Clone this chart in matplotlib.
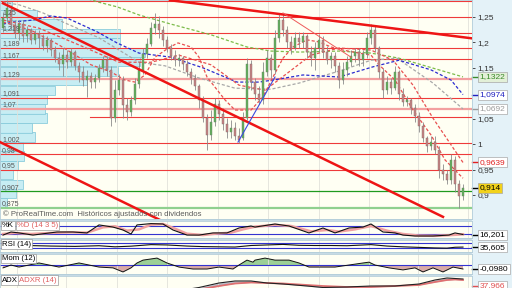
import matplotlib
matplotlib.use('Agg')
import matplotlib.pyplot as plt
from matplotlib.patches import Rectangle
import numpy as np

plt.rcParams['font.family'] = ['Liberation Sans', 'DejaVu Sans']

# velas diarias, sesiones 0..115
opens = [1.228, 1.248, 1.264, 1.234, 1.219, 1.236, 1.213, 1.224, 1.205, 1.217,
         1.209, 1.193, 1.205, 1.185, 1.169, 1.158, 1.175, 1.161, 1.181, 1.154,
         1.142, 1.126, 1.134, 1.122, 1.130, 1.150, 1.165, 1.146, 1.051, 1.106,
         1.126, 1.077, 1.063, 1.087, 1.118, 1.146, 1.177, 1.197, 1.228, 1.236,
         1.224, 1.205, 1.189, 1.173, 1.165, 1.169, 1.158, 1.142, 1.130, 1.114,
         1.087, 1.051, 1.018, 1.043, 1.079, 1.059, 1.040, 1.024, 1.032, 1.016,
         1.012, 1.051, 1.158, 1.122, 1.099, 1.087, 1.142, 1.169, 1.146, 1.209,
         1.244, 1.224, 1.201, 1.189, 1.209, 1.201, 1.213, 1.181, 1.169, 1.189,
         1.205, 1.181, 1.165, 1.173, 1.154, 1.126, 1.146, 1.161, 1.173, 1.181,
         1.165, 1.177, 1.209, 1.224, 1.189, 1.142, 1.106, 1.122, 1.110, 1.142,
         1.099, 1.083, 1.087, 1.071, 1.055, 1.036, 1.012, 0.996, 1.004, 0.988,
         0.949, 0.941, 0.930, 0.969, 0.922, 0.898]
highs = [1.260, 1.283, 1.274, 1.244, 1.244, 1.244, 1.232, 1.228, 1.224, 1.224,
         1.217, 1.213, 1.209, 1.193, 1.181, 1.189, 1.185, 1.189, 1.185, 1.161,
         1.154, 1.146, 1.142, 1.138, 1.158, 1.173, 1.173, 1.154, 1.126, 1.138,
         1.134, 1.091, 1.095, 1.130, 1.161, 1.189, 1.209, 1.240, 1.258, 1.252,
         1.232, 1.213, 1.197, 1.185, 1.177, 1.173, 1.165, 1.150, 1.138, 1.118,
         1.095, 1.059, 1.067, 1.091, 1.087, 1.071, 1.051, 1.047, 1.043, 1.032,
         1.063, 1.169, 1.165, 1.130, 1.114, 1.161, 1.185, 1.177, 1.224, 1.258,
         1.256, 1.232, 1.213, 1.221, 1.221, 1.221, 1.217, 1.193, 1.201, 1.217,
         1.213, 1.193, 1.181, 1.181, 1.161, 1.161, 1.173, 1.185, 1.189, 1.189,
         1.185, 1.221, 1.236, 1.232, 1.193, 1.150, 1.134, 1.130, 1.154, 1.146,
         1.110, 1.095, 1.091, 1.079, 1.063, 1.043, 1.016, 1.016, 1.016, 0.996,
         0.961, 0.949, 0.981, 0.977, 0.930, 0.922]
lows = [1.221, 1.240, 1.224, 1.209, 1.205, 1.201, 1.201, 1.197, 1.197, 1.189,
        1.185, 1.181, 1.173, 1.161, 1.146, 1.134, 1.150, 1.154, 1.146, 1.122,
        1.114, 1.093, 1.110, 1.110, 1.122, 1.142, 1.134, 1.036, 1.043, 1.097,
        1.051, 1.047, 1.055, 1.079, 1.110, 1.138, 1.169, 1.193, 1.217, 1.209,
        1.193, 1.181, 1.165, 1.154, 1.154, 1.146, 1.134, 1.118, 1.106, 1.071,
        1.043, 0.988, 1.008, 1.036, 1.047, 1.028, 1.012, 1.012, 1.008, 1.002,
        1.008, 1.047, 1.106, 1.087, 1.079, 1.079, 1.134, 1.130, 1.138, 1.201,
        1.213, 1.189, 1.177, 1.185, 1.189, 1.189, 1.169, 1.154, 1.146, 1.181,
        1.169, 1.158, 1.150, 1.142, 1.110, 1.118, 1.134, 1.154, 1.161, 1.154,
        1.154, 1.169, 1.197, 1.181, 1.130, 1.091, 1.099, 1.099, 1.106, 1.087,
        1.075, 1.075, 1.059, 1.043, 1.024, 1.004, 0.985, 0.988, 0.981, 0.933,
        0.930, 0.922, 0.922, 0.906, 0.874, 0.890]
closes = [1.248, 1.268, 1.234, 1.219, 1.236, 1.213, 1.224, 1.205, 1.217, 1.209,
          1.193, 1.205, 1.185, 1.169, 1.158, 1.175, 1.161, 1.181, 1.154, 1.142,
          1.126, 1.134, 1.122, 1.130, 1.150, 1.165, 1.146, 1.051, 1.106, 1.126,
          1.077, 1.063, 1.087, 1.118, 1.146, 1.177, 1.197, 1.228, 1.236, 1.224,
          1.205, 1.189, 1.173, 1.165, 1.169, 1.158, 1.142, 1.130, 1.114, 1.087,
          1.051, 1.018, 1.043, 1.079, 1.059, 1.040, 1.024, 1.032, 1.016, 1.008,
          1.051, 1.158, 1.122, 1.099, 1.087, 1.142, 1.169, 1.146, 1.209, 1.244,
          1.224, 1.201, 1.189, 1.209, 1.201, 1.213, 1.181, 1.169, 1.189, 1.205,
          1.181, 1.165, 1.173, 1.154, 1.126, 1.146, 1.161, 1.173, 1.181, 1.165,
          1.177, 1.209, 1.224, 1.189, 1.142, 1.106, 1.122, 1.110, 1.142, 1.099,
          1.083, 1.087, 1.071, 1.055, 1.036, 1.012, 0.996, 1.004, 0.988, 0.949,
          0.941, 0.930, 0.969, 0.922, 0.898, 0.914]

# medias moviles (sesion, precio)
green_x = [19, 24, 28.5, 34, 42, 52, 61, 67, 74, 84, 92, 99, 109, 115]
green_y = [1.291, 1.279, 1.270, 1.254, 1.236, 1.215, 1.191, 1.183, 1.181, 1.183, 1.179, 1.169, 1.146, 1.1322]
blue_x = [0, 2.5, 7.5, 12, 16, 23.5, 28.5, 34, 42, 50, 58.5, 64, 67.5, 75, 84, 92.5, 99, 107, 112, 115]
blue_y = [1.236, 1.240, 1.244, 1.252, 1.248, 1.221, 1.199, 1.179, 1.171, 1.150, 1.122, 1.122, 1.126, 1.136,
          1.132, 1.152, 1.165, 1.146, 1.126, 1.0974]
gray_x = [0, 4, 10, 15, 24, 34, 40.5, 49, 58, 67, 74, 85, 92, 98.5, 107.5, 115]
gray_y = [1.279, 1.274, 1.258, 1.240, 1.209, 1.161, 1.154, 1.130, 1.110, 1.108, 1.120, 1.146, 1.165, 1.169, 1.120, 1.0692]
redb_x = [0, 9, 19, 29, 37, 44, 52, 59, 65.5, 70.5, 77, 84, 92, 97.5, 102.5, 107.5, 115]
redb_y = [1.244, 1.228, 1.195, 1.161, 1.161, 1.175, 1.156, 1.116, 1.106, 1.136, 1.175, 1.189, 1.185, 1.165, 1.116, 1.051, 0.9639]
reda_x = [0, 7, 14, 22, 27, 30.5, 33, 35.5, 38, 41.75, 43.75, 47, 49, 51, 53, 55.5, 58, 62, 65, 67.5,
          70, 72.5, 76, 79, 82, 85, 89, 92, 94, 98, 102.5, 107, 110.5, 115]
reda_y = [1.240, 1.224, 1.195, 1.156, 1.142, 1.126, 1.122, 1.136, 1.171, 1.191, 1.199, 1.191, 1.171, 1.132,
          1.112, 1.087, 1.067, 1.067, 1.093, 1.132, 1.169, 1.191, 1.205, 1.201, 1.191, 1.185, 1.179, 1.175,
          1.156, 1.126, 1.067, 1.018, 0.969, 0.933]

# niveles horizontales
levels_red = [1.281, 1.25, 1.219, 1.189, 1.167, 1.091, 1.002, 0.98, 0.95]
levels_pink = [1.129, 1.07]
level_short = 1.053
level_green = 0.907
level_lightgreen = 0.875

# lineas de tendencia ((sesion, precio), (sesion, precio))
trend_thick = [((0, 1.277), (110, 0.857)),
               ((-1, 1.005), (40, 0.848)),
               ((41.75, 1.283), (117.25, 1.208))]
trend_thin_red = ((70, 1.258), (87, 1.171))
trend_thin_blue = ((58.75, 1.004), (68, 1.132))

# perfil de volumen
vp_prices = [0.884, 0.903, 0.921, 0.940, 0.958, 0.977, 0.995, 1.014, 1.032, 1.051, 1.069,
             1.088, 1.106, 1.125, 1.143, 1.162, 1.180, 1.199, 1.217, 1.236, 1.254, 1.273]
vp_volume = [7, 16, 23, 13, 18, 24, 23, 35, 32, 47, 45, 47, 55, 87, 118, 140, 145, 120, 120, 62, 37, 12]
vp_labels = [(1.25, '1,25'), (1.219, '1,219'), (1.189, '1,189'), (1.167, '1,167'), (1.129, '1,129'),
             (1.091, '1,091'), (1.07, '1,07'), (1.002, '1,002'), (0.98, '0,98'), (0.95, '0,95'),
             (0.907, '0,907'), (0.875, '0,875')]

month_x = [3.5, 15.75, 28.5, 41, 53.75, 66.25, 79, 91.5, 103.75, 116.25]

# indicadores
k_x = [0, 2, 4, 7.5, 13.5, 17.5, 21, 24, 27.5, 30, 32, 33.5, 37, 40, 42.5, 46, 49, 52.5, 56, 59,
       62, 63, 68, 71.5, 76.5, 80, 83, 86.5, 90, 92, 95, 98, 100, 103, 107.5, 111.5, 113, 115]
k_y = [12, 35, 28, 12, 35, 35, 28, 88, 72, 50, 20, 88, 98, 95, 50, 12, 12, 28, 28, 65,
       80, 72, 95, 80, 28, 65, 28, 65, 72, 95, 35, 28, 12, 5, 5, 12, 28, 16.2]
d_x = [0, 3, 7, 12, 17, 21, 25, 28, 31, 34, 37, 40, 43, 46, 50, 53, 57, 60, 63, 68, 72, 77, 81, 84,
       88, 92, 96, 100, 104, 108, 112, 115]
d_y = [20, 28, 20, 28, 33, 30, 70, 78, 45, 55, 90, 95, 60, 22, 12, 22, 30, 55, 75, 88, 80, 40, 50, 38,
       55, 80, 45, 20, 8, 6, 12, 18]
rsi_x = [0, 6, 12, 18, 24, 28, 32, 37, 41, 46, 50, 54, 58, 62, 66, 70, 74, 78, 82, 86, 92, 96, 100,
         104, 108, 111, 113, 115]
rsi_y = [55, 50, 45, 42, 48, 38, 44, 58, 55, 45, 40, 38, 36, 50, 55, 60, 52, 50, 50, 48, 58, 45, 38,
         33, 28, 26, 34, 35.6]
mom_x = [0, 2, 4, 9, 14, 19, 24, 27.5, 30, 32, 33.5, 35, 38.5, 41, 44, 47.5, 51, 54, 57.5, 59,
         61, 62.5, 63, 65.5, 68, 71.5, 74, 76.5, 80, 83, 86.5, 90, 91.5, 93, 96.5, 100, 103, 105,
         107.5, 110, 112.5, 115]
mom_y = [-0.07, 0, -0.05, 0.05, -0.05, 0.05, -0.05, -0.07, -0.17, -0.07, 0.05, 0.12, 0.17, 0.05,
         -0.05, -0.098, -0.098, -0.05, -0.098, 0, 0.12, 0.07, 0.12, 0.17, 0.12, 0.12, 0.05, -0.05,
         -0.05, -0.05, 0, 0.05, 0.07, 0, -0.07, -0.12, -0.07, -0.17, -0.07, -0.17, -0.05, -0.098]
adx_x = [0, 15, 30, 45, 49, 54, 58, 62, 66, 70, 76, 80, 86, 92, 98, 104, 108, 111, 113, 115]
adx_y = [22, 18, 25, 30, 35, 44, 48, 48, 44, 42, 38, 35, 36, 38, 38, 42, 50, 54, 53, 52]
adxr_y = [24, 20, 22, 27, 31, 38, 43, 45, 44, 43, 40, 38, 36, 36, 38, 40, 46, 50, 51, 50]

cream = '#fffff3'
W, H = 512, 288
fig = plt.figure(figsize=(5.12, 2.88), dpi=100, facecolor='#c6dae5')
fig.add_artist(Rectangle((472 / W, 0), 40 / W, 1, transform=fig.transFigure,
                         color='#e4f2f8', zorder=-5))


def panel(y0, y1):
    a = fig.add_axes([0, 1 - y1 / H, 472 / W, (y1 - y0) / H])
    a.set_xlim(-0.75, 117.25)
    a.set_facecolor(cream)
    a.set_xticks([])
    a.set_yticks([])
    for s in a.spines.values():
        s.set_color('#b4cdd9')
        s.set_linewidth(0.6)
    return a


def box_label(a, val, txt, col, fc='white'):
    tr = a.get_yaxis_transform()
    a.plot([1.0, 1.012], [val, val], transform=tr, clip_on=False, color=col, lw=1.0)
    a.text(1.016, val, txt, transform=tr, fontsize=6, color=col, va='center', ha='left',
           bbox=dict(boxstyle='square,pad=0.18', fc=fc, ec='#a8a8a8', lw=0.5), clip_on=False)


def tag(a, x, txt, col):
    a.text(x, 0.95, txt, transform=a.transAxes, fontsize=5.6, color=col, va='top', ha='left',
           bbox=dict(boxstyle='square,pad=0.15', fc='white', ec='#9a9a9a', lw=0.5), zorder=20)


# ---- panel principal ----
ax = panel(0, 219)
ax.set_ylim(0.8528, 1.2834)
axv = ax.twiny()
axv.set_zorder(0)
ax.set_zorder(1)
ax.patch.set_visible(False)
axv.patch.set_visible(True)
axv.set_facecolor(cream)
axv.set_xlim(0, 472)
axv.set_xticks([])
for s in axv.spines.values():
    s.set_visible(False)
axv.barh(vp_prices, vp_volume, height=0.0185, left=0, color='#c4ecf4',
         edgecolor='#86cadb', lw=0.6, alpha=0.95)

for m in month_x:
    ax.axvline(m, color='#e2e2da', lw=0.6, zorder=1)
for lv in levels_red:
    ax.axhline(lv, color='#ee3a3a', lw=0.8, zorder=2)
for lv in levels_pink:
    ax.axhline(lv, color='#f3a0a0', lw=1.6, zorder=2)
ax.axhline(level_short, xmin=90 / 472, color='#ee3a3a', lw=0.8, zorder=2)
ax.axhline(level_green, color='#1f9a1f', lw=0.9, zorder=2)
ax.axhline(level_lightgreen, color='#8fd08f', lw=1.6, zorder=2)

dash = (0, (2.5, 1.6))
ax.plot(green_x, green_y, color='#7cbb4a', lw=0.9, ls=dash, zorder=3)
ax.plot(gray_x, gray_y, color='#a8a8a8', lw=0.9, ls=dash, zorder=3)
ax.plot(blue_x, blue_y, color='#2b2bd0', lw=0.9, ls=dash, zorder=3)
ax.plot(redb_x, redb_y, color='#e85050', lw=0.9, ls=dash, zorder=3)
ax.plot(reda_x, reda_y, color='#e85050', lw=0.9, ls=dash, zorder=3)

idx = np.arange(len(closes))
o = np.array(opens)
c = np.array(closes)
up = c >= o
ax.vlines(idx, lows, highs, color='#8a8a8a', lw=0.6, zorder=4)
ax.bar(idx[up], np.maximum(c - o, 0.002)[up], bottom=o[up], width=0.72, color='#62b25a',
       edgecolor='#6b7d6b', lw=0.3, zorder=5)
ax.bar(idx[~up], np.maximum(o - c, 0.002)[~up], bottom=c[~up], width=0.72, color='#c98484',
       edgecolor='#7d6a6a', lw=0.3, zorder=5)

for (x0, y0), (x1, y1) in trend_thick:
    ax.plot([x0, x1], [y0, y1], color='#ee1515', lw=1.8, zorder=6)
ax.plot(*zip(*trend_thin_red), color='#ee5a5a', lw=0.7, zorder=6)
ax.plot(*zip(*trend_thin_blue), color='#3a4ae0', lw=0.8, zorder=6)

ytr = ax.get_yaxis_transform()
for lv, txt in vp_labels:
    ax.text(2 / 472, lv + 0.001, txt, transform=ytr, fontsize=5, color='#555555',
            va='bottom', ha='left', zorder=7)
ax.text(3 / 472, 0.022, '© ProRealTime.com  Históricos ajustados con dividendos',
        transform=ax.transAxes, fontsize=5.6, color='#5a5a5a', va='center', zorder=7)

ax.yaxis.tick_right()
ax.set_yticks([1.25, 1.2, 1.15, 1.05, 1.0, 0.95, 0.9])
ax.set_yticklabels(['1,25', '1,2', '1,15', '1,05', '1', '0,95', '0,9'])
ax.tick_params(axis='y', labelsize=6, length=2, width=0.6, pad=2, colors='#333333')

box_label(ax, 1.1322, '1,1322', '#3a8a2a', '#e3f0d8')
box_label(ax, 1.0974, '1,0974', '#2020c0')
box_label(ax, 1.0692, '1,0692', '#9a9a9a')
box_label(ax, 0.9639, '0,9639', '#e02020')
box_label(ax, 0.914, '0,914', '#000000', '#f2d21b')

# ---- estocastico ----
a1 = panel(221, 238)
a1.set_ylim(-10, 117.5)
for m in month_x:
    a1.axvline(m, color='#e2e2da', lw=0.6)
a1.axhline(80, color='#3434d0', lw=0.8)
a1.axhline(20, color='#3434d0', lw=0.8)
a1.plot(d_x, d_y, color='#f0a0a0', lw=1.8)
a1.plot(k_x, k_y, color='#111111', lw=0.8)
tag(a1, 0.004, '%K', '#000000')
tag(a1, 0.036, '%D (14 3 5)', '#e06060')
box_label(a1, 16.2, '16,201', '#000000')

# ---- RSI ----
a2 = panel(240, 252)
a2.set_ylim(-9, 100)
for m in month_x:
    a2.axvline(m, color='#e2e2da', lw=0.6)
a2.axhline(70, color='#3434d0', lw=0.8)
a2.axhline(30, color='#3434d0', lw=0.8)
a2.plot(rsi_x, rsi_y, color='#111111', lw=0.8)
tag(a2, 0.004, 'RSI (14)', '#000000')
box_label(a2, 35.6, '35,605', '#000000')

# ---- momentum ----
a3 = panel(254, 274)
a3.set_ylim(-0.22, 0.27)
for m in month_x:
    a3.axvline(m, color='#e2e2da', lw=0.6)
mx = np.array(mom_x)
my = np.array(mom_y)
a3.fill_between(mx, my, 0, where=my >= 0, interpolate=True, color='#9ccf96', lw=0)
a3.fill_between(mx, my, 0, where=my <= 0, interpolate=True, color='#d9aaa6', lw=0)
a3.axhline(0, color='#3434d0', lw=0.8)
a3.plot(mx, my, color='#111111', lw=0.7)
tag(a3, 0.004, 'Mom (12)', '#000000')
box_label(a3, -0.098, '-0,0980', '#000000')

# ---- ADX ----
a4 = panel(276, 288)
a4.set_ylim(34, 58)
for m in month_x:
    a4.axvline(m, color='#e2e2da', lw=0.6)
a4.fill_between(adx_x, adx_y, adxr_y, color='#8a94b0', alpha=0.6, lw=0)
a4.plot(adx_x, adxr_y, color='#e07070', lw=1.3)
a4.plot(adx_x, adx_y, color='#222222', lw=0.8)
tag(a4, 0.004, 'ADX', '#000000')
tag(a4, 0.04, 'ADXR (14)', '#e06060')
box_label(a4, 37.966, '37,966', '#e05050')

fig.savefig('out.png', dpi=100, facecolor=fig.get_facecolor())
